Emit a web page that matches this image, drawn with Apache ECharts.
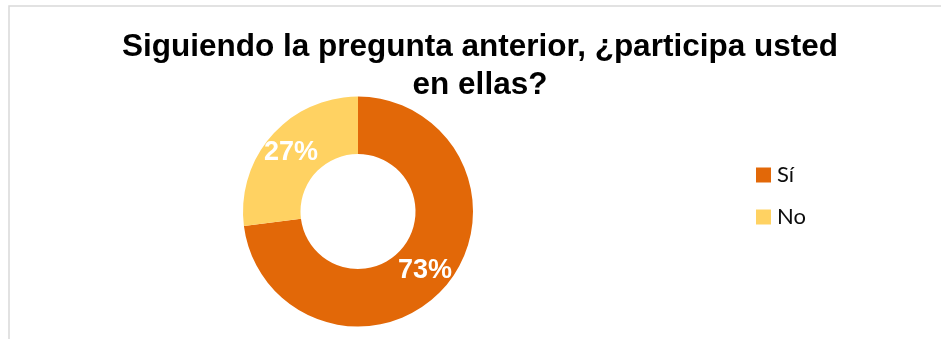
<!DOCTYPE html>
<html>
<head>
<meta charset="utf-8">
<script src="https://cdn.jsdelivr.net/npm/echarts@6/dist/echarts.min.js"></script>
<style>
  html, body { margin: 0; padding: 0; background: #ffffff; }
  #chart { width: 941px; height: 339px; }
</style>
</head>
<body>
<div id="chart"></div>
<script>
// Survey answers: share of respondents who take part
var categories = ['Sí', 'No'];
var percentages = [73, 27];
var sliceColors = ['#E26808', '#FFD262'];

var chartTitle = 'Siguiendo la pregunta anterior, ¿participa usted\nen ellas?';

var pieData = categories.map(function (name, i) {
  return { name: name, value: percentages[i], itemStyle: { color: sliceColors[i] } };
});

var chart = echarts.init(document.getElementById('chart'), null, { renderer: 'canvas' });

chart.setOption({
  animation: false,
  backgroundColor: '#ffffff',
  graphic: [
    {
      // chart-area frame
      type: 'rect',
      silent: true,
      shape: { x: 9, y: 6, width: 1000, height: 1000 },
      style: { fill: 'none', stroke: '#D9D9D9', lineWidth: 1.5 }
    }
  ],
  title: {
    text: chartTitle,
    left: 480,
    top: 28,
    textAlign: 'center',
    padding: 0,
    textStyle: {
      fontFamily: 'Liberation Sans, Arial, sans-serif',
      fontWeight: 'bold',
      fontSize: 31.5,
      lineHeight: 38,
      color: '#000000'
    }
  },
  legend: {
    orient: 'vertical',
    left: 756,
    top: 164,
    padding: 0,
    itemWidth: 15,
    itemHeight: 15,
    itemGap: 20,
    icon: 'rect',
    data: categories,
    selectedMode: false,
    textStyle: {
      fontFamily: 'Lato, sans-serif',
      fontSize: 22,
      lineHeight: 22,
      color: '#0D0D0D',
      padding: [0, 0, 0, 1]
    }
  },
  series: [
    {
      type: 'pie',
      center: [358, 211.5],
      radius: [57.5, 115],
      startAngle: 90,
      clockwise: true,
      avoidLabelOverlap: false,
      label: {
        show: true,
        position: 'inside',
        formatter: '{c}%',
        color: '#ffffff',
        fontFamily: 'Liberation Sans, Arial, sans-serif',
        fontWeight: 'bold',
        fontSize: 27
      },
      labelLine: { show: false },
      emphasis: { disabled: true },
      data: pieData
    }
  ]
});
</script>
</body>
</html>
